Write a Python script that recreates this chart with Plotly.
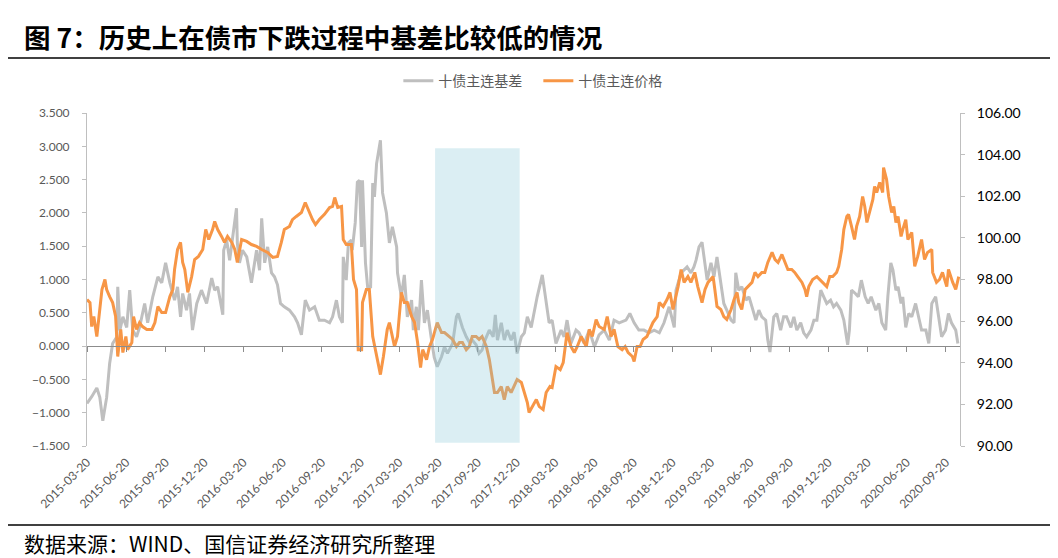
import plotly.graph_objects as go

title_text = "图 7：历史上在债市下跌过程中基差比较低的情况"
source_text = "数据来源：WIND、国信证券经济研究所整理"
basis_name = "十债主连基差"
price_name = "十债主连价格"

tick_labels = ["2015-03-20", "2015-06-20", "2015-09-20", "2015-12-20", "2016-03-20", "2016-06-20",
               "2016-09-20", "2016-12-20", "2017-03-20", "2017-06-20", "2017-09-20", "2017-12-20",
               "2018-03-20", "2018-06-20", "2018-09-20", "2018-12-20", "2019-03-20", "2019-06-20",
               "2019-09-20", "2019-12-20", "2020-03-20", "2020-06-20", "2020-09-20"]

basis_dates = (
    ["2015-03-20", "2015-03-31", "2015-04-12", "2015-04-19", "2015-04-26", "2015-05-05", "2015-05-12", "2015-05-19", "2015-05-29", "2015-05-31",
     "2015-06-05", "2015-06-12", "2015-06-21", "2015-06-28", "2015-07-05", "2015-07-14", "2015-07-21", "2015-08-02", "2015-08-09", "2015-08-21",
     "2015-09-02", "2015-09-11", "2015-09-20", "2015-09-30", "2015-10-11", "2015-10-18", "2015-10-25", "2015-10-30", "2015-11-08", "2015-11-15",
     "2015-11-22", "2015-12-02", "2015-12-13", "2015-12-25"]
    + ["2016-01-06", "2016-01-13", "2016-01-20", "2016-02-01", "2016-02-03", "2016-02-10", "2016-02-17", "2016-02-24", "2016-03-04", "2016-03-06",
       "2016-03-11", "2016-03-18", "2016-03-28", "2016-04-08", "2016-04-20", "2016-04-27", "2016-05-02", "2016-05-09", "2016-05-16", "2016-05-25",
       "2016-06-01", "2016-06-08", "2016-06-15", "2016-06-24", "2016-07-06", "2016-07-18", "2016-07-25", "2016-08-03", "2016-08-12", "2016-08-22",
       "2016-09-03", "2016-09-14", "2016-09-26", "2016-10-08", "2016-10-15", "2016-10-24", "2016-10-31", "2016-11-07", "2016-11-09", "2016-11-16",
       "2016-11-21", "2016-11-28", "2016-11-30", "2016-12-07", "2016-12-12", "2016-12-17", "2016-12-22", "2016-12-24", "2016-12-31"]
    + ["2017-01-05", "2017-01-12", "2017-01-17", "2017-01-21", "2017-01-26", "2017-02-04", "2017-02-09", "2017-02-18", "2017-02-25", "2017-03-04",
       "2017-03-14", "2017-03-16", "2017-03-25", "2017-04-01", "2017-04-08", "2017-04-18", "2017-04-22", "2017-04-29", "2017-05-04", "2017-05-11",
       "2017-05-18", "2017-05-25", "2017-06-03", "2017-06-10", "2017-06-17", "2017-06-27", "2017-07-04", "2017-07-11", "2017-07-23", "2017-08-01",
       "2017-08-05", "2017-08-15", "2017-08-24", "2017-08-31", "2017-09-07", "2017-09-16", "2017-09-23", "2017-09-30", "2017-10-07", "2017-10-17",
       "2017-10-26", "2017-10-31", "2017-11-05", "2017-11-14", "2017-11-21", "2017-11-28", "2017-12-07", "2017-12-14", "2017-12-21", "2017-12-31"]
    + ["2018-01-07", "2018-01-14", "2018-01-23", "2018-01-30", "2018-02-06", "2018-02-18", "2018-02-27", "2018-03-06", "2018-03-13", "2018-03-22",
       "2018-04-03", "2018-04-10", "2018-04-17", "2018-04-26", "2018-05-08", "2018-05-15", "2018-05-27", "2018-06-08", "2018-06-20", "2018-07-01",
       "2018-07-13", "2018-07-25", "2018-08-05", "2018-08-17", "2018-09-02", "2018-09-11", "2018-09-21", "2018-10-02", "2018-10-14", "2018-10-26",
       "2018-11-07", "2018-11-19", "2018-11-30", "2018-12-12", "2018-12-24", "2018-12-28"]
    + ["2019-01-09", "2019-01-16", "2019-01-23", "2019-02-01", "2019-02-08", "2019-02-13", "2019-02-20", "2019-02-27", "2019-03-06", "2019-03-11",
       "2019-03-20", "2019-03-27", "2019-04-03", "2019-04-12", "2019-04-19", "2019-04-26", "2019-05-06", "2019-05-13", "2019-05-17", "2019-05-24",
       "2019-05-31", "2019-06-10", "2019-06-17", "2019-06-24", "2019-07-03", "2019-07-10", "2019-07-17", "2019-07-26", "2019-07-31", "2019-08-05",
       "2019-08-10", "2019-08-14", "2019-08-21", "2019-08-30", "2019-09-06", "2019-09-13", "2019-09-23", "2019-09-30", "2019-10-07", "2019-10-16",
       "2019-10-23", "2019-10-30", "2019-11-09", "2019-11-16", "2019-11-23", "2019-12-02", "2019-12-09", "2019-12-16", "2019-12-25"]
    + ["2020-01-01", "2020-01-08", "2020-01-18", "2020-01-25", "2020-01-29", "2020-02-03", "2020-02-07", "2020-02-12", "2020-02-21", "2020-02-28",
       "2020-03-06", "2020-03-15", "2020-03-22", "2020-03-29", "2020-04-09", "2020-04-16", "2020-04-23", "2020-05-02", "2020-05-07", "2020-05-14",
       "2020-05-19", "2020-05-26", "2020-05-31", "2020-06-07", "2020-06-11", "2020-06-18", "2020-06-25", "2020-07-02", "2020-07-11", "2020-07-18",
       "2020-07-25", "2020-08-04", "2020-08-11", "2020-08-18", "2020-08-27", "2020-09-03", "2020-09-10", "2020-09-19", "2020-09-26", "2020-10-03",
       "2020-10-13", "2020-10-18"]
)

basis_values = (
    [-0.86, -0.76, -0.63, -0.77, -1.12, -0.77, -0.26, 0.04, 0.14, 0.89,
     0.24, 0.44, 0.28, 0.84, 0.24, 0.14, 0.28, 0.64, 0.35, 0.74,
     1.04, 0.95, 1.25, 0.95, 0.69, 0.89, 0.44, 0.79, 0.54, 0.79,
     0.24, 0.64, 0.84, 0.64]
    + [1.02, 0.84, 0.89, 0.47, 1.44, 1.59, 1.29, 1.64, 2.07, 1.55,
       1.25, 1.44, 1.34, 0.95, 1.44, 1.14, 1.92, 1.25, 1.49, 1.10,
       1.04, 0.92, 0.64, 0.59, 0.54, 0.44, 0.35, 0.17, 0.69, 0.54,
       0.59, 0.39, 0.39, 0.35, 0.44, 0.69, 0.44, 0.35, 1.34, 0.99,
       1.55, 1.59, 1.44, 1.85, 2.46, 2.49, 1.49, 2.49, 1.25]
    + [0.89, 0.89, 2.45, 2.24, 2.74, 3.09, 2.30, 2.00, 1.55, 1.79,
       1.49, 1.10, 0.74, 1.07, 0.44, 0.69, 0.24, 0.59, 0.24, 0.99,
       0.35, 0.54, 0.12, -0.17, -0.31, -0.16, -0.01, -0.11, 0.04, 0.44,
       0.49, 0.28, 0.14, 0.06, 0.09, 0.02, -0.11, -0.06, 0.09, 0.24,
       0.14, 0.47, 0.09, 0.35, 0.09, 0.24, 0.09, 0.21, -0.11, 0.14]
    + [0.20, 0.44, 0.28, 0.54, 0.74, 1.07, 0.64, 0.35, 0.39, 0.04,
       0.24, 0.14, 0.39, 0.04, 0.24, 0.20, 0.04, 0.24, -0.01, 0.17,
       0.24, 0.09, 0.39, 0.35, 0.39, 0.49, 0.35, 0.24, 0.24, 0.20,
       0.24, 0.20, 0.35, 0.59, 0.28, 0.84]
    + [1.10, 1.14, 1.19, 1.10, 1.19, 1.29, 1.49, 1.56, 1.25, 0.99,
       1.25, 1.04, 1.34, 0.95, 0.64, 0.54, 0.39, 0.35, 1.10, 0.84,
       0.89, 0.69, 0.74, 0.59, 0.39, 0.54, 0.44, 0.39, 0.09, -0.09,
       0.24, 0.44, 0.49, 0.24, 0.44, 0.44, 0.28, 0.44, 0.24, 0.35,
       0.20, 0.14, 0.24, 0.39, 0.39, 0.84, 0.74, 0.64, 0.69]
    + [0.59, 0.64, 0.54, 0.39, 0.24, 0.02, 0.24, 0.84, 0.79, 0.74,
       0.99, 0.74, 0.64, 0.74, 0.54, 0.64, 0.35, 0.24, 0.74, 1.25,
       1.14, 0.84, 0.89, 0.64, 0.74, 0.28, 0.49, 0.44, 0.64, 0.44,
       0.24, 0.24, 0.04, 0.64, 0.74, 0.44, 0.14, 0.24, 0.49, 0.35,
       0.24, 0.04]
)

price_dates = (
    ["2015-03-20", "2015-03-27", "2015-03-31", "2015-04-05", "2015-04-12", "2015-04-17", "2015-04-24", "2015-05-01", "2015-05-05", "2015-05-12",
     "2015-05-19", "2015-05-26", "2015-05-31", "2015-06-07", "2015-06-12", "2015-06-19", "2015-06-23", "2015-07-03", "2015-07-07", "2015-07-14",
     "2015-07-21", "2015-07-28", "2015-08-07", "2015-08-19", "2015-08-26", "2015-09-02", "2015-09-11", "2015-09-20", "2015-09-30", "2015-10-07",
     "2015-10-11", "2015-10-18", "2015-10-25", "2015-10-30", "2015-11-04", "2015-11-11", "2015-11-20", "2015-11-27", "2015-12-06", "2015-12-16",
     "2015-12-23", "2015-12-30"]
    + ["2016-01-08", "2016-01-13", "2016-01-20", "2016-01-29", "2016-02-05", "2016-02-12", "2016-02-22", "2016-02-29", "2016-03-06", "2016-03-16",
       "2016-03-28", "2016-04-08", "2016-04-20", "2016-05-02", "2016-05-09", "2016-05-16", "2016-05-28", "2016-06-08", "2016-06-17", "2016-06-24",
       "2016-07-06", "2016-07-13", "2016-07-22", "2016-08-03", "2016-08-12", "2016-08-19", "2016-08-29", "2016-09-05", "2016-09-14", "2016-09-26",
       "2016-10-08", "2016-10-15", "2016-10-20", "2016-10-27", "2016-11-05", "2016-11-09", "2016-11-16", "2016-11-28", "2016-12-03", "2016-12-10",
       "2016-12-12", "2016-12-14", "2016-12-22", "2016-12-24"]
    + ["2017-01-02", "2017-01-09", "2017-01-17", "2017-01-26", "2017-02-04", "2017-02-11", "2017-02-20", "2017-02-25", "2017-03-09", "2017-03-16",
       "2017-03-25", "2017-04-01", "2017-04-08", "2017-04-18", "2017-04-25", "2017-05-02", "2017-05-09", "2017-05-14", "2017-05-23", "2017-05-30",
       "2017-06-06", "2017-06-17", "2017-06-27", "2017-07-04", "2017-07-16", "2017-07-23", "2017-08-01", "2017-08-08", "2017-08-15", "2017-08-24",
       "2017-08-31", "2017-09-07", "2017-09-16", "2017-09-23", "2017-09-30", "2017-10-10", "2017-10-17", "2017-10-24", "2017-10-29", "2017-11-05",
       "2017-11-14", "2017-11-21", "2017-11-28", "2017-12-07", "2017-12-14", "2017-12-21", "2017-12-31"]
    + ["2018-01-07", "2018-01-14", "2018-01-18", "2018-01-25", "2018-02-04", "2018-02-11", "2018-02-20", "2018-02-27", "2018-03-08", "2018-03-13",
       "2018-03-22", "2018-04-01", "2018-04-08", "2018-04-17", "2018-04-26", "2018-05-04", "2018-05-11", "2018-05-20", "2018-06-01", "2018-06-08",
       "2018-06-15", "2018-06-24", "2018-07-01", "2018-07-13", "2018-07-20", "2018-07-29", "2018-08-05", "2018-08-14", "2018-08-24", "2018-08-31",
       "2018-09-07", "2018-09-17", "2018-09-21", "2018-09-28", "2018-10-05", "2018-10-12", "2018-10-21", "2018-10-28", "2018-11-04", "2018-11-14",
       "2018-11-19", "2018-11-28", "2018-12-07", "2018-12-14", "2018-12-21", "2018-12-26"]
    + ["2019-01-02", "2019-01-09", "2019-01-16", "2019-01-25", "2019-02-01", "2019-02-10", "2019-02-17", "2019-02-27", "2019-03-06", "2019-03-13",
       "2019-03-25", "2019-03-29", "2019-04-03", "2019-04-12", "2019-04-19", "2019-04-26", "2019-05-06", "2019-05-13", "2019-05-20", "2019-05-24",
       "2019-05-31", "2019-06-08", "2019-06-15", "2019-06-24", "2019-07-01", "2019-07-08", "2019-07-17", "2019-07-24", "2019-07-31", "2019-08-10",
       "2019-08-17", "2019-08-24", "2019-09-02", "2019-09-09", "2019-09-16", "2019-09-25", "2019-10-02", "2019-10-09", "2019-10-19", "2019-10-26",
       "2019-10-30", "2019-11-04", "2019-11-13", "2019-11-23", "2019-11-30", "2019-12-07", "2019-12-16", "2019-12-23", "2019-12-30"]
    + ["2020-01-08", "2020-01-13", "2020-01-20", "2020-01-25", "2020-02-01", "2020-02-05", "2020-02-12", "2020-02-19", "2020-02-24", "2020-03-02",
       "2020-03-09", "2020-03-14", "2020-03-19", "2020-03-26", "2020-04-02", "2020-04-06", "2020-04-11", "2020-04-18", "2020-04-25", "2020-04-27",
       "2020-05-04", "2020-05-09", "2020-05-16", "2020-05-21", "2020-05-26", "2020-05-31", "2020-06-07", "2020-06-11", "2020-06-18", "2020-06-23",
       "2020-07-02", "2020-07-09", "2020-07-16", "2020-07-25", "2020-08-01", "2020-08-08", "2020-08-18", "2020-08-20", "2020-08-29", "2020-09-05",
       "2020-09-12", "2020-09-22", "2020-09-26", "2020-10-06", "2020-10-13", "2020-10-20"]
)

price_values = (
    [97.04, 96.89, 95.74, 96.22, 95.26, 96.22, 97.52, 98.00, 97.52, 97.18,
     96.89, 96.22, 94.30, 95.60, 94.49, 95.26, 94.63, 94.97, 96.22, 95.60,
     95.93, 95.74, 95.60, 95.60, 95.93, 96.70, 96.41, 96.41, 97.18, 97.52,
     98.48, 99.44, 99.78, 98.82, 98.48, 97.38, 98.14, 98.96, 99.11, 99.44,
     100.40, 99.92]
    + [100.40, 100.79, 100.40, 100.07, 99.78, 100.07, 99.78, 99.44, 98.82, 99.92,
       99.83, 99.68, 99.59, 99.44, 99.35, 99.30, 99.06, 99.11, 99.78, 100.40,
       100.55, 100.88, 101.03, 101.22, 101.70, 101.37, 100.88, 100.64, 100.88, 101.13,
       101.46, 101.51, 101.94, 101.46, 101.51, 99.92, 99.68, 99.68, 98.00, 97.52,
       96.22, 94.63, 94.63, 96.89]
    + [97.52, 97.52, 95.26, 94.30, 93.43, 94.30, 95.60, 95.93, 94.78, 95.26,
       97.38, 96.89, 96.89, 96.22, 95.93, 94.97, 93.77, 94.63, 94.15, 94.78,
       95.12, 95.93, 95.45, 95.45, 95.26, 95.12, 94.78, 94.97, 94.97, 94.63,
       94.78, 95.26, 95.26, 95.12, 95.26, 94.78, 94.15, 93.19, 92.57, 92.57,
       92.86, 92.23, 92.86, 92.57, 92.86, 93.19, 93.05]
    + [92.57, 92.09, 91.61, 91.89, 92.23, 91.89, 91.75, 92.57, 92.86, 92.81,
       93.82, 93.67, 94.01, 95.45, 94.78, 94.49, 94.78, 95.26, 94.78, 95.60,
       95.26, 96.08, 95.74, 95.60, 96.22, 95.26, 95.60, 94.78, 94.63, 94.78,
       94.49, 94.30, 94.06, 94.78, 94.78, 95.12, 95.26, 95.60, 95.93, 96.22,
       96.89, 96.70, 97.04, 97.38, 96.56, 97.04]
    + [97.66, 98.48, 97.86, 98.14, 97.86, 98.34, 97.66, 96.89, 97.52, 97.86,
       98.14, 97.52, 96.70, 96.56, 96.22, 96.08, 96.56, 97.04, 97.38, 96.89,
       96.56, 97.52, 97.66, 97.86, 98.34, 98.14, 98.34, 98.34, 98.82, 99.30,
       98.96, 98.82, 99.20, 98.87, 98.48, 98.48, 98.34, 98.14, 97.86, 97.52,
       97.18, 97.66, 98.00, 98.14, 98.00, 97.86, 97.66, 98.14, 98.14]
    + [98.34, 98.63, 99.44, 100.40, 101.03, 101.13, 100.55, 99.92, 100.55, 101.03,
       101.99, 101.51, 100.74, 101.37, 101.85, 102.47, 102.18, 102.66, 102.18, 103.38,
       102.81, 101.99, 101.22, 101.51, 100.74, 101.03, 100.07, 100.40, 100.88, 99.92,
       100.26, 98.63, 99.11, 99.92, 98.96, 99.30, 99.44, 98.34, 97.86, 98.00,
       98.34, 97.66, 98.48, 97.86, 97.52, 98.14]
)

highlight_period = ["2017-06-12", "2017-12-27"]
highlight_band = [-1.45, 2.97]
x_range = ["2015-03-20", "2020-10-23"]
left_range = [-1.5, 3.5]
right_range = [90, 106]

assert len(basis_dates) == len(basis_values)
assert len(price_dates) == len(price_values)

GRAY = "#BFBFBF"
ORANGE = "#F79646"
AXIS = "#BFBFBF"
TEXT = "#595959"
CJK = "Noto Sans CJK SC"
LAT = "Lato, Carlito, 'Liberation Sans', sans-serif"

fig = go.Figure()
fig.add_trace(go.Scatter(x=basis_dates, y=basis_values, name=basis_name, mode="lines",
                         line=dict(color=GRAY, width=3), xaxis="x", yaxis="y"))
fig.add_trace(go.Scatter(x=price_dates, y=price_values, name=price_name, mode="lines",
                         line=dict(color=ORANGE, width=3), xaxis="x", yaxis="y2"))
# carrier trace for the zero-line axis (invisible)
fig.add_trace(go.Scatter(x=basis_dates, y=basis_values, mode="lines", xaxis="x2", yaxis="y",
                         line=dict(width=0, color="rgba(0,0,0,0)"), opacity=0,
                         showlegend=False, hoverinfo="skip"))

zero_pos = (0 - left_range[0]) / (left_range[1] - left_range[0])

# the page body adds an 8px offset, so the figure is 8px smaller with 8px less top/left margin
fig.update_layout(
    width=1050, height=550, autosize=False,
    paper_bgcolor="white", plot_bgcolor="white",
    margin=dict(l=79, r=98, t=105, b=112),
    showlegend=True,
    legend=dict(orientation="h", x=0.517, xanchor="center", y=1.096, yanchor="middle",
                font=dict(family=CJK, size=14, color=TEXT), bgcolor="rgba(0,0,0,0)",
                itemwidth=30, entrywidth=95),
    xaxis=dict(type="date", range=x_range, tickmode="array", tickvals=tick_labels, ticktext=tick_labels,
               tickangle=-45, showline=False, ticks="", showgrid=False, zeroline=False,
               ticklabelstandoff=6,
               tickfont=dict(family=LAT, size=12, color=TEXT)),
    xaxis2=dict(type="date", range=x_range, overlaying="x", anchor="free", position=zero_pos,
                tickmode="array", tickvals=tick_labels, showticklabels=False, ticks="outside",
                ticklen=5, tickcolor="#8C8C8C", showline=True, linecolor="#8C8C8C", linewidth=1,
                showgrid=False, zeroline=False, side="bottom"),
    yaxis=dict(range=left_range, tick0=left_range[0], dtick=0.5, tickformat=".3f",
               showline=True, linecolor=AXIS, linewidth=1, ticks="outside", ticklen=4, tickcolor=AXIS,
               showgrid=False, zeroline=False, ticklabelstandoff=10,
               tickfont=dict(family=LAT, size=12, color=TEXT)),
    yaxis2=dict(range=right_range, tick0=right_range[0], dtick=2, tickformat=".2f", overlaying="y",
                side="right", anchor="x", showline=True, linecolor=AXIS, linewidth=1, ticks="outside",
                ticklen=4, tickcolor=AXIS, showgrid=False, zeroline=False, ticklabelstandoff=9,
                tickfont=dict(family=LAT, size=14, color="#000000")),
    shapes=[
        dict(type="rect", xref="x", yref="y", x0=highlight_period[0], x1=highlight_period[1],
             y0=highlight_band[0], y1=highlight_band[1], fillcolor="rgba(135,198,215,0.3)",
             line=dict(width=0), layer="above"),
        dict(type="line", xref="paper", yref="paper", x0=-0.094, x1=1.12, y0=1.324, y1=1.324,
             line=dict(color="#000000", width=1.5)),
        dict(type="line", xref="paper", yref="paper", x0=-0.094, x1=1.12, y0=1.165, y1=1.165,
             line=dict(color="#000000", width=1.5)),
        dict(type="line", xref="paper", yref="paper", x0=-0.094, x1=1.12, y0=-0.237, y1=-0.237,
             line=dict(color="#000000", width=1.5)),
    ],
    annotations=[
        dict(text="<b>" + title_text + "</b>", xref="paper", yref="paper", x=-0.0745, y=1.231,
             xanchor="left", yanchor="middle", showarrow=False,
             font=dict(family=CJK, size=26.5, color="#000000")),
        dict(text=source_text, xref="paper", yref="paper", x=-0.0733, y=-0.291,
             xanchor="left", yanchor="middle", showarrow=False, borderpad=0,
             font=dict(family=CJK, size=21, color="#000000")),
    ],
)

fig.write_html("out.html")
